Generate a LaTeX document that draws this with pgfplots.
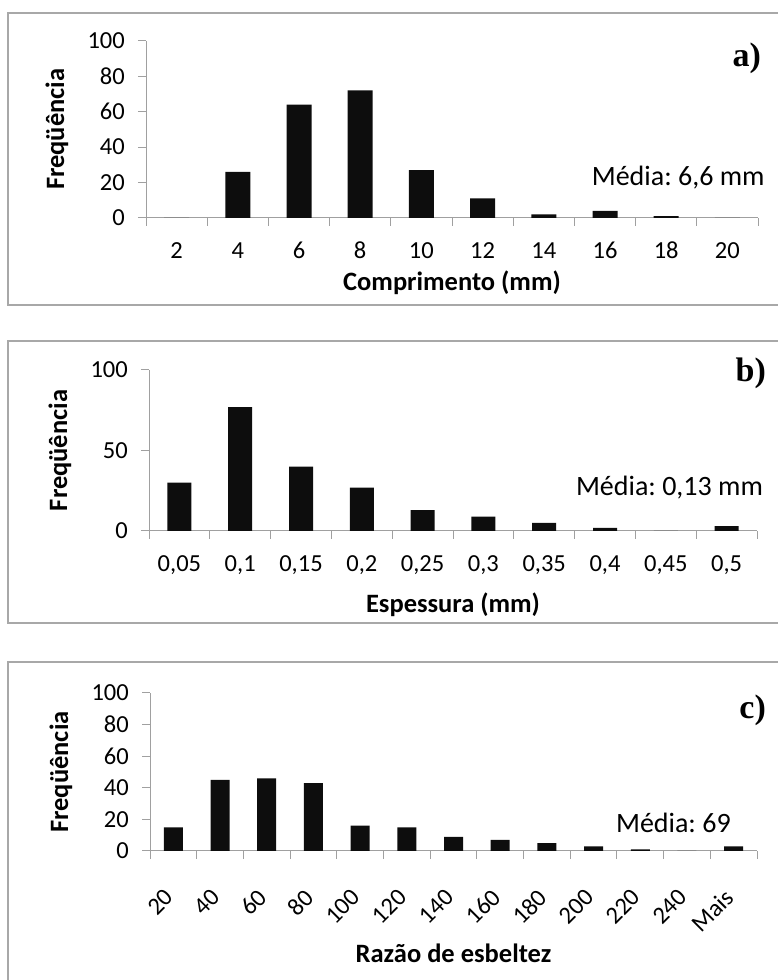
\documentclass[border=0pt]{standalone}
\usepackage{pgfplots}
\pgfplotsset{compat=1.18}
\usepackage{fontspec}
\setmainfont{Carlito}
\newfontfamily\serifb{Liberation Serif}
\frenchspacing
\definecolor{axgray}{HTML}{A0A0A0}
\definecolor{framegray}{HTML}{A8A8A8}
\definecolor{barblack}{HTML}{0D0D0D}
\newcommand{\tickfont}{\fontsize{24.5}{29}\selectfont}
\newcommand{\labfont}{\fontsize{26.5}{31}\selectfont\bfseries}
\newcommand{\medfont}{\fontsize{28}{33}\selectfont}
\newcommand{\panfont}{\serifb\bfseries\fontsize{34}{40}\selectfont}
\pgfplotsset{
  hist/.style={
    scale only axis, anchor=south west, clip=false,
    axis x line*=bottom, axis y line*=left,
    enlargelimits=false, ymin=0, ymax=100,
    axis line style={axgray, line width=1pt},
    tick align=outside,
    major tick length=8pt, minor tick length=8pt,
    major x tick style={draw=none},
    minor x tick style={axgray, line width=1pt},
    major y tick style={axgray, line width=1pt},
    /pgf/number format/assume math mode=true,
    tick label style={font=\tickfont, text=black},
    yticklabel style={anchor=east, inner sep=0pt, xshift=-13pt},
    xticklabel style={anchor=base, inner sep=0pt, yshift=-32.5pt},
    every axis y label/.style={at={(rel axis cs:0,0.5)}, xshift=-89pt, rotate=90, anchor=center, font=\labfont},
    ybar, bar shift=0pt,
  },
  barstyle/.style={fill=barblack, draw=none},
}
\begin{document}
\begin{tikzpicture}[x=1pt,y=1pt]
\useasboundingbox (0,0) rectangle (777,980);
% frames
\draw[framegray, line width=1.5pt] (800,967) -- (8,967) -- (8,675) -- (800,675);
\draw[framegray, line width=1.5pt] (800,639) -- (8,639) -- (8,357) -- (800,357);
\draw[framegray, line width=1.8pt] (8,639) -- (545,639);
\draw[framegray, line width=1.5pt] (800,318) -- (8,318) -- (8,-20);

% a)
\begin{axis}[hist, at={(146pt,762pt)}, width=612pt, height=177.3pt,
  xmin=-0.5, xmax=9.5, bar width=25pt,
  ytick={0,20,40,60,80,100},
  xtick={0,...,9}, xticklabels={2,4,6,8,10,12,14,16,18,20},
  minor xtick={-0.5,0.5,...,9.5},
  ylabel={Freqüência},
  xlabel={Comprimento (mm)},
  every axis x label/.style={at={(rel axis cs:0.5,0)}, anchor=center, yshift=-65pt, font=\labfont},
]
\addplot[barstyle] coordinates {(0,0) (1,26) (2,64) (3,72) (4,27) (5,11) (6,2) (7,4) (8,1) (9,0)};
\node[anchor=east, font=\medfont, inner sep=0pt] at (rel axis cs:1.011,0.2256) {Média: 6,6 mm};
\node[anchor=east, font=\panfont, inner sep=0pt] at (rel axis cs:1.005,0.902) {a)};
\end{axis}

% b)
\begin{axis}[hist, at={(149pt,449pt)}, width=608pt, height=161pt,
  xmin=-0.5, xmax=9.5, bar width=24pt,
  ytick={0,50,100},
  xtick={0,...,9}, xticklabels={{0,05},{0,1},{0,15},{0,2},{0,25},{0,3},{0,35},{0,4},{0,45},{0,5}},
  minor xtick={-0.5,0.5,...,9.5},
  ylabel={Freqüência},
  xlabel={Espessura (mm)},
  every axis x label/.style={at={(rel axis cs:0.5,0)}, anchor=center, yshift=-74pt, font=\labfont},
]
\addplot[barstyle] coordinates {(0,30) (1,77) (2,40) (3,27) (4,13) (5,9) (6,5) (7,2) (8,0) (9,3)};
\node[anchor=east, font=\medfont, inner sep=0pt] at (rel axis cs:1.010,0.267) {Média: 0,13 mm};
\node[anchor=east, font=\panfont, inner sep=0pt] at (rel axis cs:1.015,0.981) {b)};
\end{axis}

% c)
\begin{axis}[hist, at={(150pt,129pt)}, width=607pt, height=158pt,
  xmin=-0.5, xmax=12.5, bar width=19pt,
  ytick={0,20,40,60,80,100},
  xtick={0,...,12}, xticklabels={20,40,60,80,100,120,140,160,180,200,220,240,Mais},
  minor xtick={-0.5,0.5,...,12.5},
  xticklabel style={xshift=-4pt, yshift=-2pt, rotate=45, anchor=east, inner sep=0pt},
  ylabel={Freqüência},
  xlabel={Razão de esbeltez},
  every axis x label/.style={at={(rel axis cs:0.5,0)}, anchor=center, yshift=-102pt, font=\labfont},
]
\addplot[barstyle] coordinates {(0,15) (1,45) (2,46) (3,43) (4,16) (5,15) (6,9) (7,7) (8,5) (9,3) (10,1) (11,0) (12,3)};
\node[anchor=east, font=\medfont, inner sep=0pt] at (rel axis cs:0.957,0.177) {Média: 69};
\node[anchor=east, font=\panfont, inner sep=0pt] at (rel axis cs:1.015,0.892) {c)};
\end{axis}
\end{tikzpicture}
\end{document}
